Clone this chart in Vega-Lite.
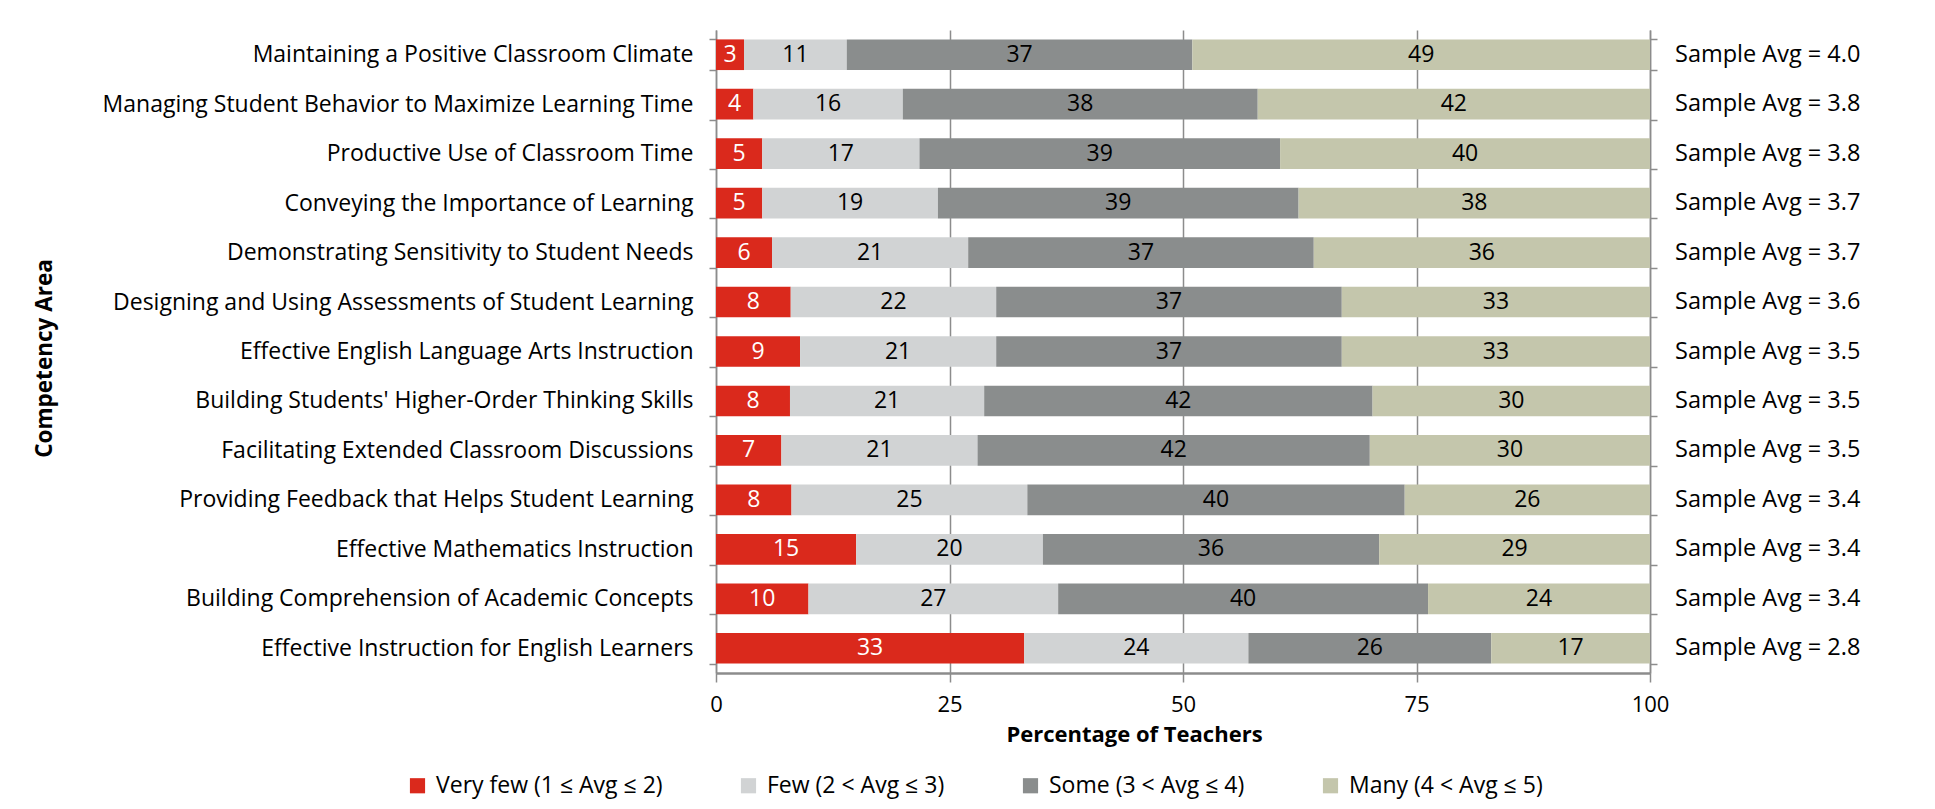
{
  "$schema": "https://vega.github.io/schema/vega-lite/v6.json",
  "width": 934,
  "height": 643,
  "autosize": {"type": "none"},
  "padding": {"left": 716, "top": 30, "right": 285, "bottom": 136},
  "background": "white",
  "datasets": {
    "bars": [
      {"area": "Maintaining a Positive Classroom Climate", "cat": "Very few (1 ≤ Avg ≤ 2)", "rank": 1, "value": 3},
      {"area": "Maintaining a Positive Classroom Climate", "cat": "Few (2 < Avg ≤ 3)", "rank": 2, "value": 11},
      {"area": "Maintaining a Positive Classroom Climate", "cat": "Some (3 < Avg ≤ 4)", "rank": 3, "value": 37},
      {"area": "Maintaining a Positive Classroom Climate", "cat": "Many (4 < Avg ≤ 5)", "rank": 4, "value": 49},
      {"area": "Managing Student Behavior to Maximize Learning Time", "cat": "Very few (1 ≤ Avg ≤ 2)", "rank": 1, "value": 4},
      {"area": "Managing Student Behavior to Maximize Learning Time", "cat": "Few (2 < Avg ≤ 3)", "rank": 2, "value": 16},
      {"area": "Managing Student Behavior to Maximize Learning Time", "cat": "Some (3 < Avg ≤ 4)", "rank": 3, "value": 38},
      {"area": "Managing Student Behavior to Maximize Learning Time", "cat": "Many (4 < Avg ≤ 5)", "rank": 4, "value": 42},
      {"area": "Productive Use of Classroom Time", "cat": "Very few (1 ≤ Avg ≤ 2)", "rank": 1, "value": 5},
      {"area": "Productive Use of Classroom Time", "cat": "Few (2 < Avg ≤ 3)", "rank": 2, "value": 17},
      {"area": "Productive Use of Classroom Time", "cat": "Some (3 < Avg ≤ 4)", "rank": 3, "value": 39},
      {"area": "Productive Use of Classroom Time", "cat": "Many (4 < Avg ≤ 5)", "rank": 4, "value": 40},
      {"area": "Conveying the Importance of Learning", "cat": "Very few (1 ≤ Avg ≤ 2)", "rank": 1, "value": 5},
      {"area": "Conveying the Importance of Learning", "cat": "Few (2 < Avg ≤ 3)", "rank": 2, "value": 19},
      {"area": "Conveying the Importance of Learning", "cat": "Some (3 < Avg ≤ 4)", "rank": 3, "value": 39},
      {"area": "Conveying the Importance of Learning", "cat": "Many (4 < Avg ≤ 5)", "rank": 4, "value": 38},
      {"area": "Demonstrating Sensitivity to Student Needs", "cat": "Very few (1 ≤ Avg ≤ 2)", "rank": 1, "value": 6},
      {"area": "Demonstrating Sensitivity to Student Needs", "cat": "Few (2 < Avg ≤ 3)", "rank": 2, "value": 21},
      {"area": "Demonstrating Sensitivity to Student Needs", "cat": "Some (3 < Avg ≤ 4)", "rank": 3, "value": 37},
      {"area": "Demonstrating Sensitivity to Student Needs", "cat": "Many (4 < Avg ≤ 5)", "rank": 4, "value": 36},
      {"area": "Designing and Using Assessments of Student Learning", "cat": "Very few (1 ≤ Avg ≤ 2)", "rank": 1, "value": 8},
      {"area": "Designing and Using Assessments of Student Learning", "cat": "Few (2 < Avg ≤ 3)", "rank": 2, "value": 22},
      {"area": "Designing and Using Assessments of Student Learning", "cat": "Some (3 < Avg ≤ 4)", "rank": 3, "value": 37},
      {"area": "Designing and Using Assessments of Student Learning", "cat": "Many (4 < Avg ≤ 5)", "rank": 4, "value": 33},
      {"area": "Effective English Language Arts Instruction", "cat": "Very few (1 ≤ Avg ≤ 2)", "rank": 1, "value": 9},
      {"area": "Effective English Language Arts Instruction", "cat": "Few (2 < Avg ≤ 3)", "rank": 2, "value": 21},
      {"area": "Effective English Language Arts Instruction", "cat": "Some (3 < Avg ≤ 4)", "rank": 3, "value": 37},
      {"area": "Effective English Language Arts Instruction", "cat": "Many (4 < Avg ≤ 5)", "rank": 4, "value": 33},
      {"area": "Building Students' Higher-Order Thinking Skills", "cat": "Very few (1 ≤ Avg ≤ 2)", "rank": 1, "value": 8},
      {"area": "Building Students' Higher-Order Thinking Skills", "cat": "Few (2 < Avg ≤ 3)", "rank": 2, "value": 21},
      {"area": "Building Students' Higher-Order Thinking Skills", "cat": "Some (3 < Avg ≤ 4)", "rank": 3, "value": 42},
      {"area": "Building Students' Higher-Order Thinking Skills", "cat": "Many (4 < Avg ≤ 5)", "rank": 4, "value": 30},
      {"area": "Facilitating Extended Classroom Discussions", "cat": "Very few (1 ≤ Avg ≤ 2)", "rank": 1, "value": 7},
      {"area": "Facilitating Extended Classroom Discussions", "cat": "Few (2 < Avg ≤ 3)", "rank": 2, "value": 21},
      {"area": "Facilitating Extended Classroom Discussions", "cat": "Some (3 < Avg ≤ 4)", "rank": 3, "value": 42},
      {"area": "Facilitating Extended Classroom Discussions", "cat": "Many (4 < Avg ≤ 5)", "rank": 4, "value": 30},
      {"area": "Providing Feedback that Helps Student Learning", "cat": "Very few (1 ≤ Avg ≤ 2)", "rank": 1, "value": 8},
      {"area": "Providing Feedback that Helps Student Learning", "cat": "Few (2 < Avg ≤ 3)", "rank": 2, "value": 25},
      {"area": "Providing Feedback that Helps Student Learning", "cat": "Some (3 < Avg ≤ 4)", "rank": 3, "value": 40},
      {"area": "Providing Feedback that Helps Student Learning", "cat": "Many (4 < Avg ≤ 5)", "rank": 4, "value": 26},
      {"area": "Effective Mathematics Instruction", "cat": "Very few (1 ≤ Avg ≤ 2)", "rank": 1, "value": 15},
      {"area": "Effective Mathematics Instruction", "cat": "Few (2 < Avg ≤ 3)", "rank": 2, "value": 20},
      {"area": "Effective Mathematics Instruction", "cat": "Some (3 < Avg ≤ 4)", "rank": 3, "value": 36},
      {"area": "Effective Mathematics Instruction", "cat": "Many (4 < Avg ≤ 5)", "rank": 4, "value": 29},
      {"area": "Building Comprehension of Academic Concepts", "cat": "Very few (1 ≤ Avg ≤ 2)", "rank": 1, "value": 10},
      {"area": "Building Comprehension of Academic Concepts", "cat": "Few (2 < Avg ≤ 3)", "rank": 2, "value": 27},
      {"area": "Building Comprehension of Academic Concepts", "cat": "Some (3 < Avg ≤ 4)", "rank": 3, "value": 40},
      {"area": "Building Comprehension of Academic Concepts", "cat": "Many (4 < Avg ≤ 5)", "rank": 4, "value": 24},
      {"area": "Effective Instruction for English Learners", "cat": "Very few (1 ≤ Avg ≤ 2)", "rank": 1, "value": 33},
      {"area": "Effective Instruction for English Learners", "cat": "Few (2 < Avg ≤ 3)", "rank": 2, "value": 24},
      {"area": "Effective Instruction for English Learners", "cat": "Some (3 < Avg ≤ 4)", "rank": 3, "value": 26},
      {"area": "Effective Instruction for English Learners", "cat": "Many (4 < Avg ≤ 5)", "rank": 4, "value": 17}
    ],
    "avgs": [
      {"area": "Maintaining a Positive Classroom Climate", "label": "Sample Avg = 4.0"},
      {"area": "Managing Student Behavior to Maximize Learning Time", "label": "Sample Avg = 3.8"},
      {"area": "Productive Use of Classroom Time", "label": "Sample Avg = 3.8"},
      {"area": "Conveying the Importance of Learning", "label": "Sample Avg = 3.7"},
      {"area": "Demonstrating Sensitivity to Student Needs", "label": "Sample Avg = 3.7"},
      {"area": "Designing and Using Assessments of Student Learning", "label": "Sample Avg = 3.6"},
      {"area": "Effective English Language Arts Instruction", "label": "Sample Avg = 3.5"},
      {"area": "Building Students' Higher-Order Thinking Skills", "label": "Sample Avg = 3.5"},
      {"area": "Facilitating Extended Classroom Discussions", "label": "Sample Avg = 3.5"},
      {"area": "Providing Feedback that Helps Student Learning", "label": "Sample Avg = 3.4"},
      {"area": "Effective Mathematics Instruction", "label": "Sample Avg = 3.4"},
      {"area": "Building Comprehension of Academic Concepts", "label": "Sample Avg = 3.4"},
      {"area": "Effective Instruction for English Learners", "label": "Sample Avg = 2.8"}
    ]
  },
  "layer": [
    {
      "data": {"name": "bars"},
      "mark": {"type": "bar"},
      "encoding": {
        "y": {
          "field": "area", "type": "nominal", "sort": null,
          "scale": {"paddingInner": 0.38, "paddingOuter": 0.19},
          "axis": {"orient": "left", "title": "Competency Area", "tickBand": "extent", "tickSize": 7, "labelPadding": 16, "labelFontSize": 23, "titleX": -672, "titleY": 328, "titleAngle": -90, "titleAlign": "center", "titleBaseline": "middle", "titleFontSize": 22.5, "domainWidth": 1.5, "tickWidth": 1.5}
        },
        "x": {
          "field": "value", "type": "quantitative", "stack": "normalize",
          "scale": {"domain": [0, 1]},
          "title": "Percentage of Teachers",
          "axis": {"values": [0, 0.25, 0.5, 0.75, 1], "labelExpr": "format(datum.value * 100, 'd')", "labelFlush": false, "grid": true, "gridWidth": 1.5, "tickSize": 9, "tickWidth": 1.5, "domainWidth": 2.5, "labelPadding": 12, "titlePadding": 9, "titleFontSize": 22, "titleX": 418, "titleAlign": "center", "titleAnchor": "start"}
        },
        "color": {
          "field": "cat", "type": "nominal",
          "scale": {
            "domain": ["Very few (1 ≤ Avg ≤ 2)", "Few (2 < Avg ≤ 3)", "Some (3 < Avg ≤ 4)", "Many (4 < Avg ≤ 5)"],
            "range": ["#DA291C", "#D1D3D4", "#8A8D8D", "#C4C6AC"]
          },
          "legend": {"orient": "none", "legendX": -310, "legendY": 744, "direction": "horizontal", "title": null, "symbolType": "square", "symbolSize": 230, "symbolStrokeWidth": 0, "labelFontSize": 23, "labelLimit": 600, "columnPadding": 74, "labelOffset": 7}
        },
        "order": {"field": "rank", "type": "quantitative"}
      }
    },
    {
      "data": {"name": "bars"},
      "mark": {"type": "text", "fontSize": 23, "baseline": "middle", "align": "center"},
      "encoding": {
        "y": {"field": "area", "type": "nominal", "sort": null, "axis": null},
        "x": {"field": "value", "type": "quantitative", "stack": "normalize", "bandPosition": 0.5, "title": "Percentage of Teachers"},
        "detail": {"field": "cat"},
        "order": {"field": "rank", "type": "quantitative"},
        "text": {"field": "value", "type": "quantitative"},
        "color": {"condition": {"test": "datum.rank === 1", "value": "white"}, "value": "black"}
      }
    },
    {
      "data": {"name": "avgs"},
      "mark": {"type": "text", "fontSize": 23.5, "baseline": "middle", "align": "left", "dx": 25},
      "encoding": {
        "y": {
          "field": "area", "type": "nominal", "sort": null,
          "axis": {"orient": "right", "labels": false, "title": null, "tickBand": "extent", "tickSize": 7, "domainWidth": 1.5, "tickWidth": 1.5}
        },
        "x": {"datum": 1, "type": "quantitative", "title": "Percentage of Teachers"},
        "text": {"field": "label"},
        "color": {"value": "black"}
      }
    }
  ],
  "resolve": {"axis": {"y": "independent"}},
  "config": {
    "font": "Open Sans",
    "view": {"stroke": null},
    "axis": {
      "labelFont": "Open Sans", "titleFont": "Open Sans",
      "labelColor": "black", "titleColor": "black",
      "domainColor": "#8C8C8C", "tickColor": "#8C8C8C", "gridColor": "#8C8C8C",
      "labelFontSize": 22, "titleFontWeight": "bold", "labelLimit": 800
    },
    "legend": {"labelFont": "Open Sans", "labelColor": "black", "padding": 0},
    "text": {"font": "Open Sans"}
  }
}
